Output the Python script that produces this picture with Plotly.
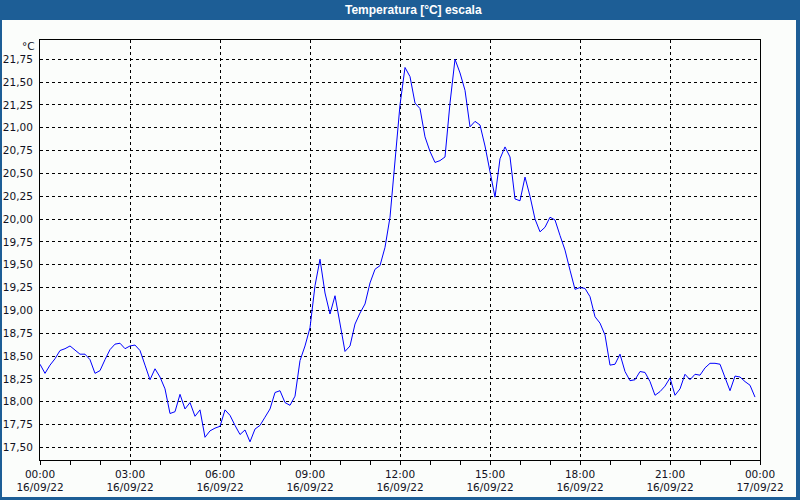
import plotly.graph_objects as go
import pandas as pd

# ---- data (10-minute readings, 16/09/22) ----
start_time = "2022-09-16 00:00"
step_minutes = 10
temperature = [
    18.41, 18.31, 18.40, 18.47, 18.56, 18.58, 18.61, 18.57, 18.52, 18.52,
    18.46, 18.31, 18.34, 18.46, 18.57, 18.63, 18.64, 18.58, 18.61, 18.62,
    18.56, 18.40, 18.24, 18.36, 18.27, 18.14, 17.87, 17.89, 18.08, 17.92,
    17.99, 17.84, 17.91, 17.61, 17.68, 17.71, 17.73, 17.91, 17.85, 17.74,
    17.64, 17.69, 17.56, 17.70, 17.74, 17.83, 17.92, 18.10, 18.12, 17.99,
    17.96, 18.06, 18.45, 18.61, 18.81, 19.27, 19.56, 19.19, 18.96, 19.16,
    18.83, 18.55, 18.61, 18.85, 18.97, 19.07, 19.30, 19.45, 19.49, 19.69,
    20.02, 20.65, 21.25, 21.66, 21.56, 21.27, 21.21, 20.90, 20.74, 20.62,
    20.64, 20.68, 21.27, 21.75, 21.60, 21.41, 21.01, 21.07, 21.03, 20.80,
    20.52, 20.24, 20.66, 20.79, 20.68, 20.22, 20.20, 20.46, 20.25, 20.00,
    19.86, 19.91, 20.02, 19.99, 19.82, 19.66, 19.44, 19.23, 19.25, 19.24,
    19.15, 18.93, 18.86, 18.73, 18.40, 18.41, 18.52, 18.33, 18.23, 18.24,
    18.33, 18.32, 18.22, 18.07, 18.11, 18.17, 18.26, 18.07, 18.14, 18.30,
    18.24, 18.30, 18.29, 18.37, 18.42, 18.42, 18.41, 18.26, 18.12, 18.28,
    18.27, 18.22, 18.18, 18.05,
]
times = pd.date_range(start_time, periods=len(temperature), freq=f"{step_minutes}min")

x_tick_values = ["2022-09-16 00:00", "2022-09-16 03:00", "2022-09-16 06:00",
                 "2022-09-16 09:00", "2022-09-16 12:00", "2022-09-16 15:00",
                 "2022-09-16 18:00", "2022-09-16 21:00", "2022-09-17 00:00"]
x_tick_labels = ["00:00<br>16/09/22", "03:00<br>16/09/22", "06:00<br>16/09/22",
                 "09:00<br>16/09/22", "12:00<br>16/09/22", "15:00<br>16/09/22",
                 "18:00<br>16/09/22", "21:00<br>16/09/22", "00:00<br>17/09/22"]
y_tick_values = [17.50, 17.75, 18.00, 18.25, 18.50, 18.75, 19.00, 19.25, 19.50,
                 19.75, 20.00, 20.25, 20.50, 20.75, 21.00, 21.25, 21.50, 21.75]

title_text = "Temperatura [°C] escala"
unit_text = "°C"

# ---- layout geometry (pixels) ----
W, H = 800, 500
ML, MR, MT, MB = 40, 40, 40, 40
PW, PH = W - ML - MR, H - MT - MB
FRAME = "#1d5e96"
BG = "#fbfdfb"
TEXT = "#111122"


def px_x(p):
    return (p - ML) / PW


def px_y(p):
    return (H - MB - p) / PH


fig = go.Figure()
fig.add_trace(go.Scatter(
    x=times, y=temperature, mode="lines",
    line=dict(color="#0000ff", width=1),
    hoverinfo="x+y", showlegend=False,
))

fig.update_layout(
    width=W, height=H,
    margin=dict(l=ML, r=MR, t=MT, b=MB, autoexpand=False),
    paper_bgcolor=FRAME,
    plot_bgcolor=BG,
    separators=",.",
    font=dict(family="DejaVu Sans", size=11, color=TEXT),
    shapes=[
        dict(type="rect", xref="paper", yref="paper", layer="below",
             x0=px_x(2), x1=px_x(796), y0=px_y(497), y1=px_y(20),
             fillcolor=BG, line=dict(width=0)),
    ],
    annotations=[
        dict(text=f"<b>{title_text}</b>", xref="paper", yref="paper",
             x=px_x(413), y=px_y(10), xanchor="center", yanchor="middle",
             showarrow=False,
             font=dict(family="Liberation Sans", size=12, color="white")),
        dict(text=unit_text, xref="paper", yref="paper",
             x=px_x(37), y=px_y(46), xanchor="right", yanchor="middle",
             showarrow=False,
             font=dict(family="DejaVu Sans", size=10.5, color=TEXT)),
    ],
)

fig.update_xaxes(
    type="date", automargin=False,
    range=["2022-09-16 00:00", "2022-09-17 00:00"],
    tickmode="array", tickvals=x_tick_values, ticktext=x_tick_labels,
    ticks="outside", ticklen=4, tickcolor="black", tickwidth=1,
    minor=dict(dtick=3600000, ticks="outside", ticklen=4,
               tickcolor="black", showgrid=False),
    showgrid=True, gridcolor="black", gridwidth=1, griddash="3px,3px",
    showline=True, linecolor="black", linewidth=1, mirror=True,
    zeroline=False,
    tickfont=dict(family="DejaVu Sans", size=10.5, color=TEXT),
)
fig.update_yaxes(
    automargin=False,
    range=[17.361, 21.961],
    tickmode="array", tickvals=y_tick_values, tickformat=".2f",
    ticks="", ticklabelstandoff=4,
    showgrid=True, gridcolor="black", gridwidth=1, griddash="3px,3px",
    showline=True, linecolor="black", linewidth=1, mirror=True,
    zeroline=False,
    tickfont=dict(family="DejaVu Sans", size=10.5, color=TEXT),
)

fig.write_html("out.html")
